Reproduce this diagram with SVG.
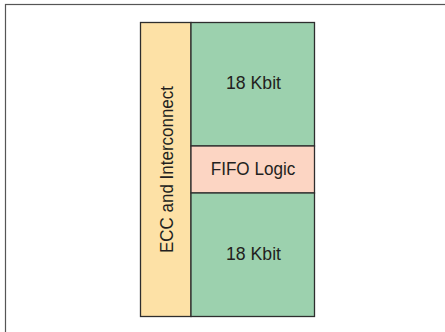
<svg xmlns="http://www.w3.org/2000/svg" width="445" height="332" viewBox="0 0 445 332">
<style>
.blk{stroke:#2e2e2e;stroke-width:1.3}
.t{font-family:"Liberation Sans",Arial,sans-serif;font-size:18px;fill:#231f20;text-anchor:middle}
</style>
<rect width="445" height="332" fill="#fff"/>
<rect id="frame" x="5.5" y="4.5" width="460" height="350" fill="none" stroke="#555" stroke-width="1.2"/>
<g id="ecc">
<rect class="blk" x="140.5" y="22.5" width="50.5" height="294" fill="#fde1a6"/>
<text class="t" transform="translate(172.5,169.5) rotate(-90)" textLength="167" lengthAdjust="spacingAndGlyphs">ECC and Interconnect</text>
</g>
<g id="bram-top">
<rect class="blk" x="191" y="22.5" width="123.5" height="123.5" fill="#9cd1ae"/>
<text class="t" x="253.5" y="89" textLength="55" lengthAdjust="spacingAndGlyphs">18 Kbit</text>
</g>
<g id="fifo">
<rect class="blk" x="191" y="146" width="123.5" height="47" fill="#fcd5c3"/>
<text class="t" x="253" y="174.5" textLength="84.6" lengthAdjust="spacingAndGlyphs">FIFO Logic</text>
</g>
<g id="bram-bottom">
<rect class="blk" x="191" y="193" width="123.5" height="123.5" fill="#9cd1ae"/>
<text class="t" x="253.5" y="260" textLength="55" lengthAdjust="spacingAndGlyphs">18 Kbit</text>
</g>
<g id="connectors"></g>
</svg>
